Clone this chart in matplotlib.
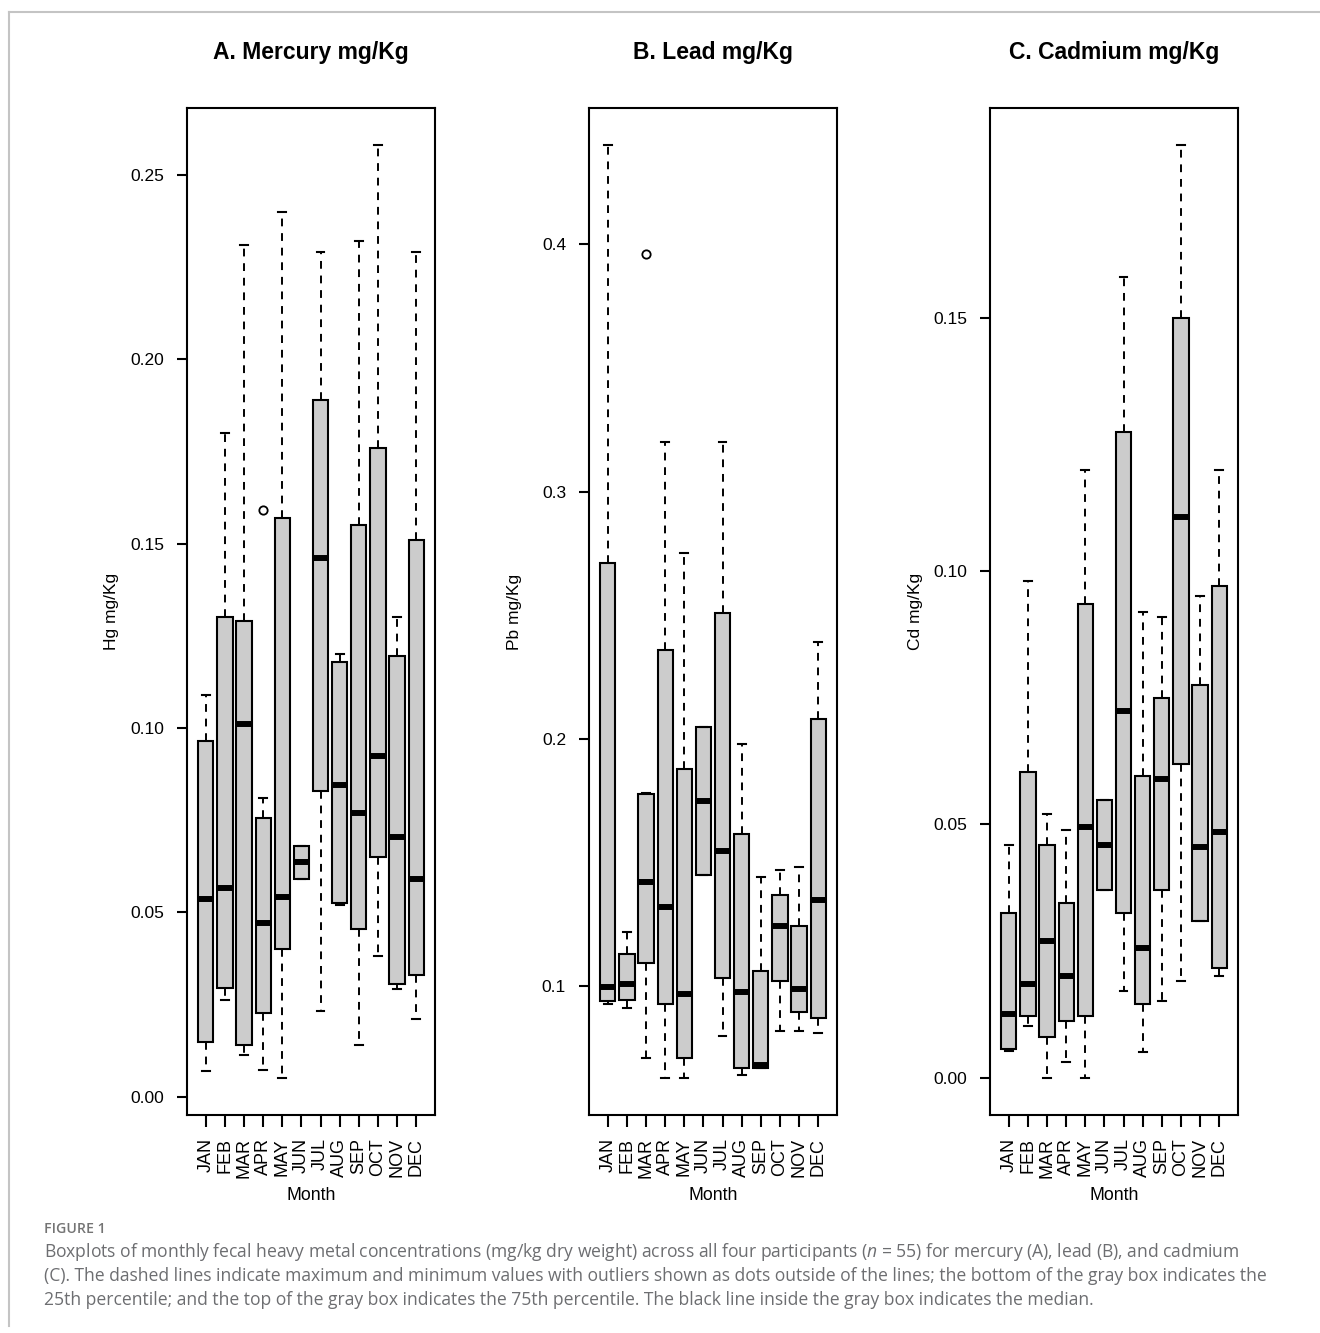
#!/usr/bin/env python3

# plot.py - monthly fecal heavy metal boxplots (Figure 1)

import matplotlib
matplotlib.use("Agg")
import matplotlib.pyplot as plt
from matplotlib.lines import Line2D

months = ['JAN', 'FEB', 'MAR', 'APR', 'MAY', 'JUN',
          'JUL', 'AUG', 'SEP', 'OCT', 'NOV', 'DEC']

# Mercury (Hg) mg/Kg: whisker low, Q1, median, Q3, whisker high
hg_lo = [0.007, 0.0264, 0.0114, 0.0072, 0.0052, 0.0591, 0.0233, 0.052, 0.0141, 0.0382, 0.0292, 0.0212]
hg_q1 = [0.015, 0.0296, 0.0141, 0.0227, 0.0401, 0.0591, 0.083, 0.0525, 0.0456, 0.065, 0.0306, 0.0331]
hg_med = [0.0536, 0.0566, 0.1011, 0.0471, 0.0542, 0.0636, 0.146, 0.0845, 0.0771, 0.0925, 0.0705, 0.0591]
hg_q3 = [0.0966, 0.130, 0.129, 0.0755, 0.157, 0.0681, 0.189, 0.118, 0.155, 0.176, 0.1195, 0.151]
hg_hi = [0.109, 0.180, 0.231, 0.0809, 0.240, 0.0681, 0.229, 0.120, 0.232, 0.258, 0.130, 0.229]
hg_out = {'APR': [0.159]}

# Lead (Pb) mg/Kg
pb_lo = [0.0929, 0.0911, 0.071, 0.063, 0.063, 0.145, 0.0798, 0.064, 0.067, 0.0818, 0.0818, 0.081]
pb_q1 = [0.094, 0.0943, 0.1094, 0.0929, 0.071, 0.145, 0.1034, 0.067, 0.067, 0.102, 0.0895, 0.087]
pb_med = [0.0995, 0.1009, 0.1421, 0.132, 0.097, 0.175, 0.1545, 0.0976, 0.068, 0.1245, 0.099, 0.135]
pb_q3 = [0.271, 0.113, 0.1777, 0.236, 0.188, 0.205, 0.251, 0.1616, 0.106, 0.137, 0.1245, 0.208]
pb_hi = [0.44, 0.1218, 0.178, 0.32, 0.275, 0.205, 0.32, 0.198, 0.144, 0.147, 0.148, 0.239]
pb_out = {'MAR': [0.396]}

# Cadmium (Cd) mg/Kg
cd_lo = [0.0052, 0.0102, 0.0, 0.0031, 0.0, 0.037, 0.0171, 0.005, 0.0151, 0.019, 0.031, 0.0201]
cd_q1 = [0.0056, 0.0121, 0.0081, 0.0111, 0.0121, 0.037, 0.0325, 0.0146, 0.037, 0.0619, 0.031, 0.0216]
cd_med = [0.0126, 0.0185, 0.027, 0.020, 0.0495, 0.0459, 0.0724, 0.0255, 0.059, 0.1106, 0.0455, 0.0485]
cd_q3 = [0.0325, 0.0604, 0.0459, 0.0344, 0.0935, 0.0549, 0.1275, 0.0595, 0.0749, 0.150, 0.0774, 0.097]
cd_hi = [0.0459, 0.098, 0.052, 0.0489, 0.12, 0.0549, 0.158, 0.092, 0.091, 0.184, 0.095, 0.12]
cd_out = {}

titles = ['A. Mercury mg/Kg', 'B. Lead mg/Kg', 'C. Cadmium mg/Kg']
ylabels = ['Hg mg/Kg', 'Pb mg/Kg', 'Cd mg/Kg']
yticks = [[0.0, 0.05, 0.10, 0.15, 0.20, 0.25], [0.1, 0.2, 0.3, 0.4], [0.0, 0.05, 0.10, 0.15]]
ytick_fmt = ['{:.2f}', '{:.1f}', '{:.2f}']

caption = [
    "Boxplots of monthly fecal heavy metal concentrations (mg/kg dry weight) across all four participants "
    "($\\mathit{n}$ = 55) for mercury (A), lead (B), and cadmium",
    "(C). The dashed lines indicate maximum and minimum values with outliers shown as dots outside of the "
    "lines; the bottom of the gray box indicates the",
    "25th percentile; and the top of the gray box indicates the 75th percentile. The black line inside "
    "the gray box indicates the median.",
]

W, H = 1320, 1333
PLOT_FONT = ['Liberation Sans', 'DejaVu Sans']
CAP_FONT = ['Open Sans', 'DejaVu Sans']
CAP_GRAY = '#6d6e71'


def build_stats(lo, q1, med, q3, hi, outliers):
    """Turn the read-off summary values into bxp stats dicts"""
    stats = []
    for i, m in enumerate(months):
        stats.append({
            'label': m,
            'whislo': lo[i], 'q1': q1[i], 'med': med[i],
            'q3': q3[i], 'whishi': hi[i],
            'fliers': outliers.get(m, []),
        })
    return stats


def draw_panel(ax, stats, title, ylabel, ticks, fmt):
    ax.bxp(stats, positions=range(1, 13), widths=0.8, capwidths=0.4,
           patch_artist=True, showfliers=True,
           boxprops=dict(facecolor='#cccccc', edgecolor='black', linewidth=1.5),
           medianprops=dict(color='black', linewidth=4.3, solid_capstyle='butt'),
           whiskerprops=dict(color='black', linewidth=1.4, linestyle=(0, (4, 3.5))),
           capprops=dict(color='black', linewidth=1.5),
           flierprops=dict(marker='o', markerfacecolor='none', markeredgecolor='black',
                           markersize=6, markeredgewidth=1.3))

    # R style: 4% padding around the data range
    vals = [s['whislo'] for s in stats] + [s['whishi'] for s in stats]
    for s in stats:
        vals += list(s['fliers'])
    lo, hi = min(vals), max(vals)
    pad = 0.04 * (hi - lo)
    ax.set_ylim(lo - pad, hi + pad)
    ax.set_xlim(0.5 - 0.48, 12.5 + 0.48)

    ax.set_yticks(ticks)
    ax.set_yticklabels([fmt.format(t) for t in ticks])
    ax.set_xticks(range(1, 13))
    ax.set_xticklabels(months, rotation=90)
    ax.tick_params(axis='y', length=7.5, width=1.5, color='black', labelsize=12.5, pad=9)
    ax.tick_params(axis='x', length=8.5, width=1.5, color='black', labelsize=13, pad=8)
    for sp in ax.spines.values():
        sp.set_linewidth(1.5)

    bb = ax.get_position()
    cx = (bb.x0 + bb.x1) / 2
    fig = ax.figure
    fig.text(cx, 1 - 53 / H, title, ha='center', va='center',
             fontsize=16.5, fontweight='bold', family=PLOT_FONT)
    fig.text(bb.x0 - 75 / W, (bb.y0 + bb.y1) / 2, ylabel, rotation=90,
             ha='center', va='center', fontsize=12.5, family=PLOT_FONT)
    fig.text(cx, 1 - 1195 / H, 'Month', ha='center', va='center',
             fontsize=12.8, family=PLOT_FONT)


def main():
    plt.rcParams['font.family'] = PLOT_FONT
    plt.rcParams['mathtext.fontset'] = 'custom'
    plt.rcParams['mathtext.it'] = 'Open Sans:italic'
    plt.rcParams['mathtext.rm'] = 'Open Sans'

    fig = plt.figure(figsize=(W / 100, H / 100), dpi=100)

    panels = [
        build_stats(hg_lo, hg_q1, hg_med, hg_q3, hg_hi, hg_out),
        build_stats(pb_lo, pb_q1, pb_med, pb_q3, pb_hi, pb_out),
        build_stats(cd_lo, cd_q1, cd_med, cd_q3, cd_hi, cd_out),
    ]
    lefts = [187, 589, 990]
    top, bottom, width = 108, 1115, 248

    for i in range(3):
        ax = fig.add_axes([lefts[i] / W, 1 - bottom / H, width / W, (bottom - top) / H])
        draw_panel(ax, panels[i], titles[i], ylabels[i], yticks[i], ytick_fmt[i])

    # journal frame lines (top and left)
    fig.add_artist(Line2D([9 / W, 1], [1 - 12 / H, 1 - 12 / H], color='#c4c4c4', lw=1.5))
    fig.add_artist(Line2D([9 / W, 9 / W], [1 - 12 / H, 1 - 1326 / H], color='#c4c4c4', lw=1.5))

    fig.text(44 / W, 1 - 1229 / H, 'FIGURE 1', ha='left', va='center',
             fontsize=10.2, fontweight='semibold', color='#747474', family=CAP_FONT)
    for k, line in enumerate(caption):
        fig.text(44 / W, 1 - (1252 + 24 * k) / H, line, ha='left', va='center',
                 fontsize=12.65, color=CAP_GRAY, family=CAP_FONT)

    fig.savefig('out.png', dpi=100)
    print("Plot saved to out.png")


if __name__ == "__main__":
    main()
